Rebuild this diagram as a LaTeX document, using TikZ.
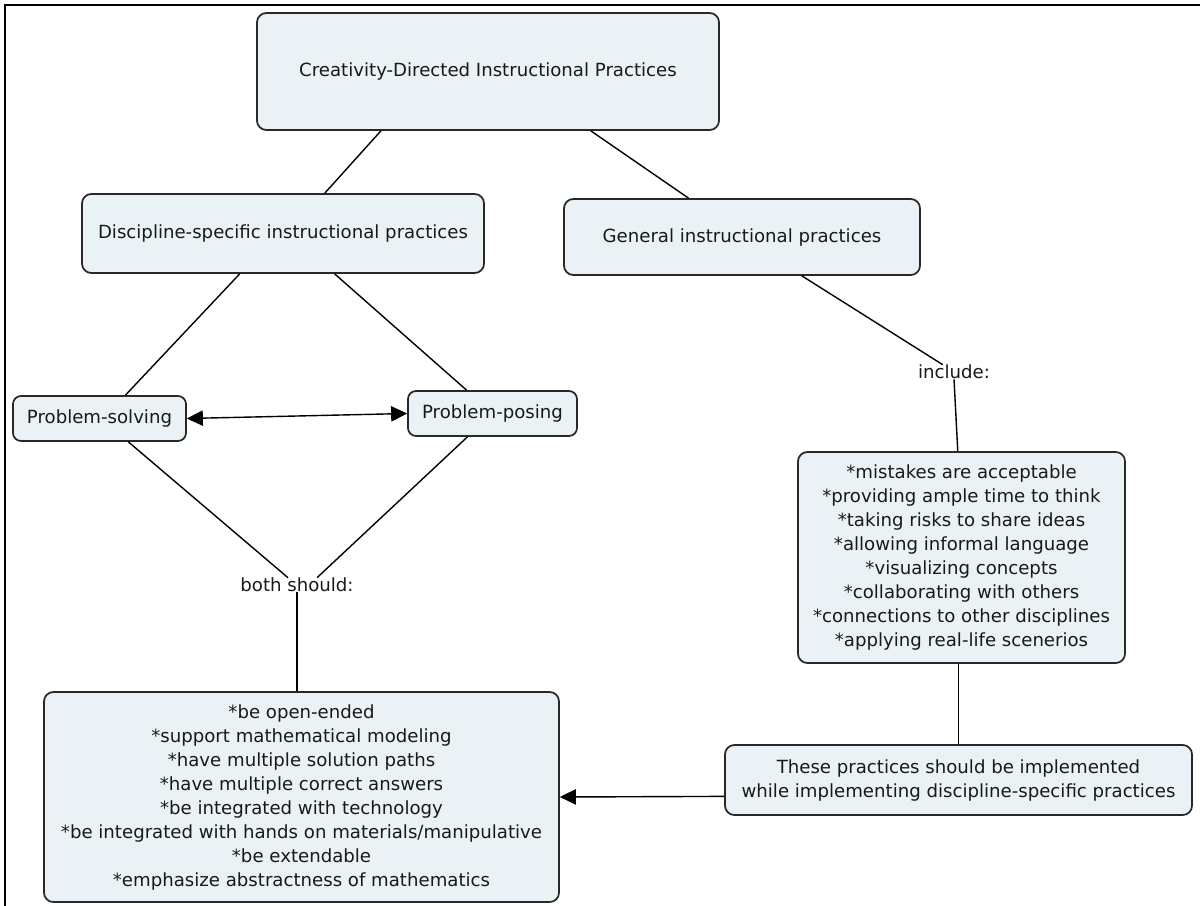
\documentclass[tikz,border=0pt]{standalone}
\usepackage{fontspec}
\setmainfont{DejaVu Sans}
\usepackage{xcolor}
\usetikzlibrary{arrows.meta,positioning}
\definecolor{cmapfill}{RGB}{235,242,245}
\definecolor{cmapedge}{RGB}{40,40,40}
\newcommand{\cmapfont}{\fontsize{13.6}{18}\selectfont}

\begin{document}
\begin{tikzpicture}[
    x=0.75pt, y=-0.75pt,
    concept/.style={rectangle, draw=cmapedge, line width=1.3pt, fill=cmapfill, rounded corners=7pt, align=center, inner sep=2pt, font=\cmapfont, text=black!90},
    linkword/.style={inner sep=0pt, font=\cmapfont, text=black!90},
    link/.style={line width=1.05pt},
    arrow/.style={link, -{Triangle[length=12pt, width=11.5pt]}},
    biarrow/.style={link, {Triangle[length=12pt, width=11.5pt]}-{Triangle[length=12pt, width=11.5pt]}}
]
    \useasboundingbox (0,0) rectangle (1200,906);
    \draw[line width=1.6pt] (5,906) -- (5,5) -- (1200,5);

    \node[concept, minimum width=346.5pt, minimum height=87.75pt] (cdip) at (488,71.5) {Creativity-Directed Instructional Practices};
    \node[concept, minimum width=301.5pt, minimum height=59.25pt] (disc) at (283,233.5) {Discipline-specific instructional practices};
    \node[concept, minimum width=267pt, minimum height=57pt] (gen) at (742,237) {General instructional practices};
    \node[concept, minimum width=129.75pt, minimum height=33.75pt, rounded corners=6pt] (solving) at (99.5,418.5) {Problem-solving};
    \node[concept, minimum width=126.75pt, minimum height=33.75pt, rounded corners=6pt] (posing) at (492.5,413.5) {Problem-posing};
    \node[linkword] (include) at (954,372) {include:};
    \node[linkword] (both) at (297,585) {both should:};
    \node[concept, minimum width=245.25pt, minimum height=158.25pt] (mistakes) at (961.5,557.5) {*mistakes are acceptable\\*providing ample time to think\\*taking risks to share ideas\\*allowing informal language\\*visualizing concepts\\*collaborating with others\\*connections to other disciplines\\*applying real-life scenerios};
    \node[concept, minimum width=386.25pt, minimum height=157.5pt] (should) at (301.5,797) {*be open-ended\\*support mathematical modeling\\*have multiple solution paths\\*have multiple correct answers\\*be integrated with technology\\*be integrated with hands on materials/manipulative\\*be extendable\\*emphasize abstractness of mathematics};
    \node[concept, minimum width=350.25pt, minimum height=52.5pt] (these) at (958.5,780) {These practices should be implemented\\while implementing discipline-specific practices};

    \draw[link] (cdip.209) -- (disc.44.6);
    \draw[link] (cdip.330.4) -- (gen.144.9);
    \draw[link] (disc.223.2) -- (solving.42.6);
    \draw[link] (disc.322.8) -- (posing.138.6);
    \draw[biarrow] (solving.east) -- (posing.west);
    \draw[link] (solving.321.7) -- (both.141);
    \draw[link] (posing.223.8) -- (both.20.9);
    \draw[link] (both.south) -- (both.south |- should.north);
    \draw[link] (gen.327.7) -- (include.147.3);
    \draw[link] (include.south) -- (mistakes.92);
    \draw[link] (these.north |- mistakes.south) -- (these.north);
    \draw[arrow] (these.184) -- (should.east);
\end{tikzpicture}
\end{document}
